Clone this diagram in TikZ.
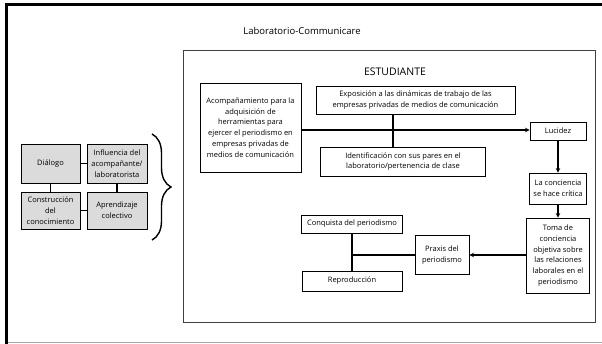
\documentclass[tikz,border=0pt]{standalone}
\usepackage{fontspec}
\setmainfont{Open Sans}
\usetikzlibrary{arrows.meta,decorations.pathreplacing}
\begin{document}
\begin{tikzpicture}[x=1pt,y=-1pt,
 box/.style={draw=black, line width=0.9pt, align=center, font=\fontsize{7.5}{10.8}\selectfont, inner sep=1pt},
 gbox/.style={box, fill=gray!28},
 conn/.style={line width=1.1pt},
 arr/.style={conn, -{Stealth[length=4.5pt,width=4.5pt]}}]
\useasboundingbox (0,0) rectangle (602,344);
% outer frame
\draw[line width=3pt] (6.5,344) -- (6.5,5) -- (602,5);
\draw[gray!70, line width=1pt] (8,342.5) -- (602,342.5);
% inner frame
\draw[black!75, line width=1pt] (183,51) rectangle (595,323);
% titles
\node[font=\fontsize{9.5}{11}\selectfont] (title) at (302,31) {Laboratorio-Communicare};
\node[font=\fontsize{10.5}{12}\selectfont] (estud) at (395,72) {ESTUDIANTE};
% left group
\node[gbox, minimum width=59pt, minimum height=39pt] (dialogo) at (50.5,163.5) {Diálogo};
\node[gbox, minimum width=60pt, minimum height=39pt] (influencia) at (117,163.5) {Influencia del\\acompañante/\\laboratorista};
\node[gbox, minimum width=59pt, minimum height=37pt] (construccion) at (50.5,210.5) {Construcción\\del\\conocimiento};
\node[gbox, minimum width=60pt, minimum height=37pt] (aprendizaje) at (117,210.5) {Aprendizaje\\colectivo};
\draw[conn] (dialogo) -- (influencia);
\draw[conn] (dialogo) -- (construccion);
\draw[conn] (influencia) -- (aprendizaje);
\draw[conn] (construccion) -- (aprendizaje);
\coordinate (bt) at (152,134);
\coordinate (bb) at (152,240);
\draw[line width=1.4pt, decorate, decoration={brace, amplitude=19pt, aspect=0.5}] (bt) -- (bb);
% right group
\node[box, minimum width=101pt, minimum height=89pt] (acomp) at (250.5,127.5) {Acompañamiento para la\\adquisición de\\herramientas para\\ejercer el periodismo en\\empresas privadas de\\medios de comunicación};
\node[box, minimum width=199pt, minimum height=28pt] (expo) at (415.5,100) {Exposición a las dinámicas de trabajo de las\\empresas privadas de medios de comunicación};
\node[box, minimum width=165pt, minimum height=29pt] (ident) at (403,161.5) {Identificación con sus pares en el\\laboratorio/pertenencia de clase};
\node[box, minimum width=56pt, minimum height=18pt] (lucidez) at (558,131) {Lucidez};
\node[box, minimum width=57pt, minimum height=31pt] (conciencia) at (558,188.5) {La conciencia\\se hace crítica};
\node[box, minimum width=63pt, minimum height=75pt] (toma) at (558,255.5) {Toma de\\conciencia\\objetiva sobre\\las relaciones\\laborales en el\\periodismo};
\node[box, minimum width=54pt, minimum height=39pt] (praxis) at (442,255) {Praxis del\\periodismo};
\node[box, minimum width=101pt, minimum height=18pt] (conquista) at (352,224) {Conquista del periodismo};
\node[box, minimum width=100pt, minimum height=20pt] (reproduccion) at (352,281) {Reproducción};
\coordinate (vx) at (393,130);
\draw[conn] (expo.south -| vx) -- (ident.north -| vx);
\draw[arr] (acomp.east |- vx) -- (lucidez.west |- vx);
\draw[arr] (lucidez) -- (conciencia);
\draw[arr] (conciencia) -- (toma);
\draw[arr] (toma.west |- praxis) -- (praxis.east);
\draw[conn] (conquista) -- (reproduccion);
\draw[conn] (praxis.west) -- (praxis.west -| conquista);
\end{tikzpicture}
\end{document}
